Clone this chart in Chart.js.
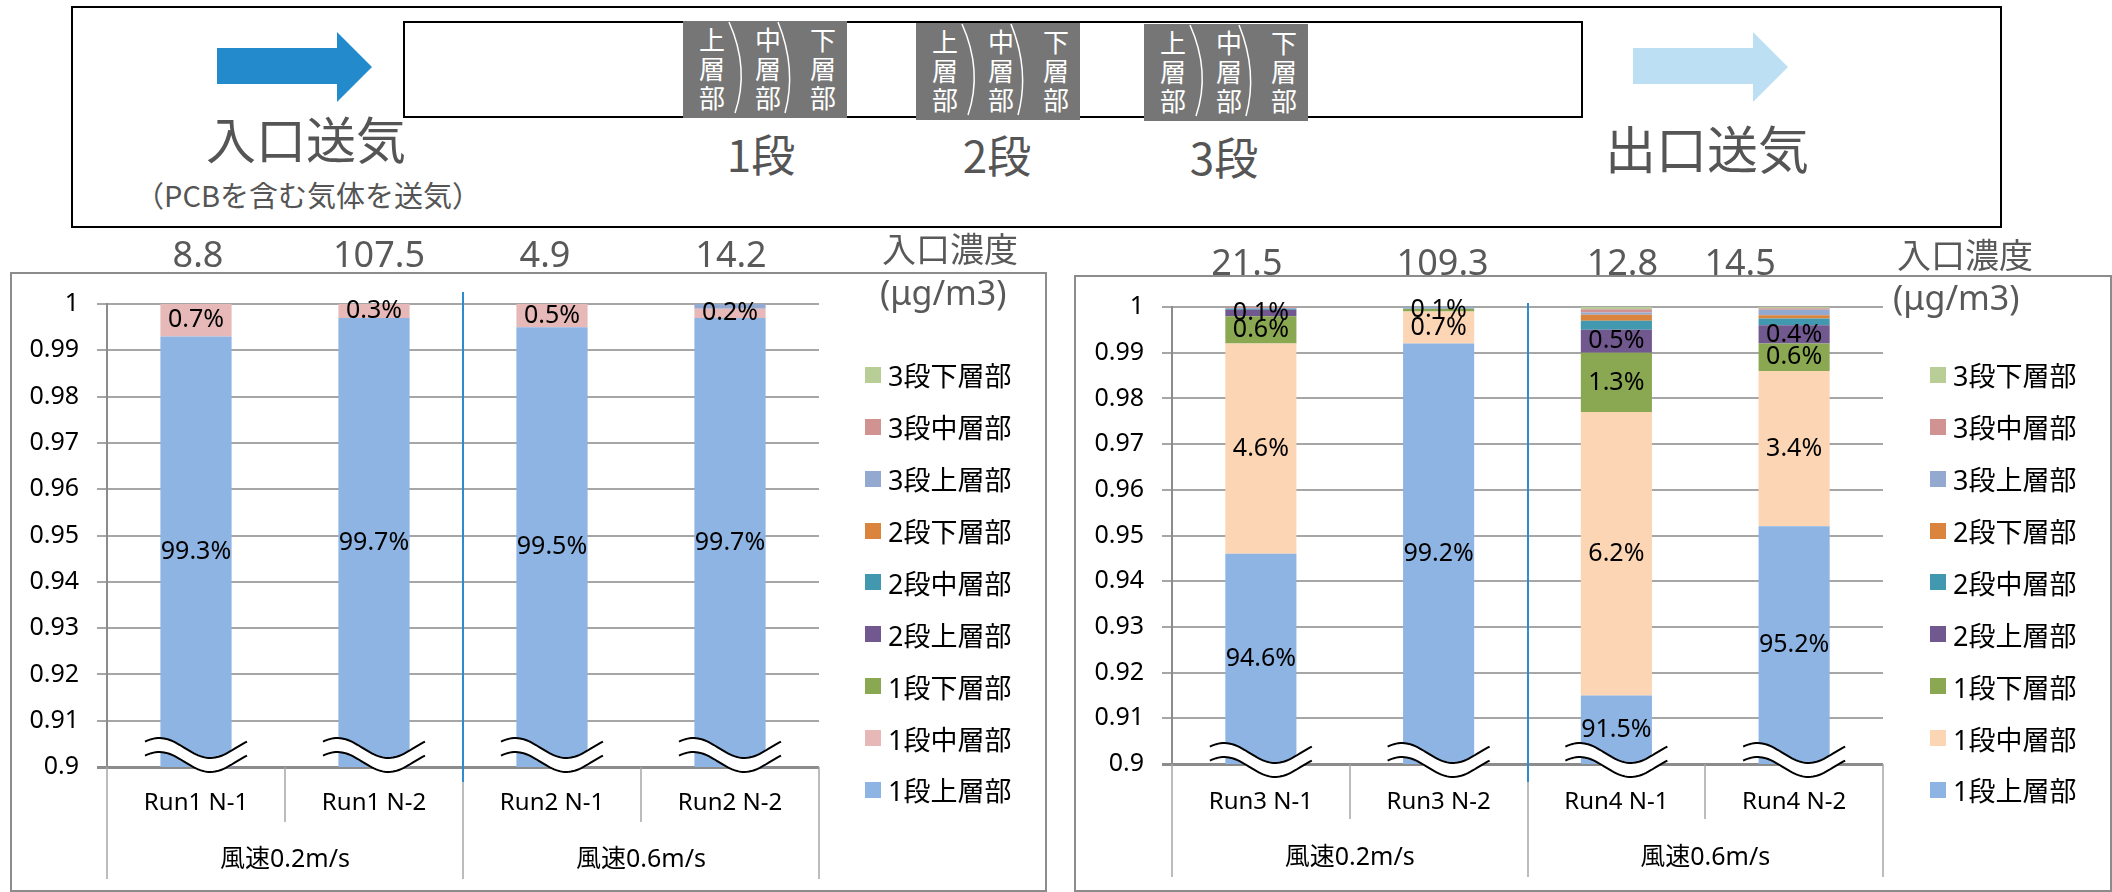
<!DOCTYPE html>
<html lang="ja">
<head>
<meta charset="UTF-8">
<title>段別・層別 PCB 捕集割合</title>
<script src="https://cdn.jsdelivr.net/npm/chart.js"></script>
<style>
  body {
    margin: 0;
    width: 2112px;
    height: 892px;
    position: relative;
    overflow: hidden;
    background: #fff;
    font-family: "Noto Sans", "Noto Sans CJK JP", sans-serif;
  }
  .abs { position: absolute; }
  .t { position: absolute; transform: translate(-50%, -50%); white-space: nowrap; line-height: 1; }
  .jp { font-family: "Noto Sans CJK JP", sans-serif; color: #555; }
  #frame { left: 71px; top: 6px; width: 1931px; height: 222px; border: 2px solid #000; box-sizing: border-box; }
  #tube { left: 403px; top: 21px; width: 1180px; height: 97px; border: 2px solid #000; box-sizing: border-box; }
  .stage { position: absolute; width: 164px; height: 97px; background: #767676; }
  .stage svg { position: absolute; left: 0; top: 0; }
  .layer {
    position: absolute; top: 3px; width: 30px; margin-left: -15px;
    text-align: center; color: #fff; font-size: 26px; line-height: 29px;
    font-family: "Noto Sans CJK JP", sans-serif;
  }
  .panel { position: absolute; border: 2px solid #8c8c8c; box-sizing: border-box; }
  canvas { position: absolute; top: 230px; }
  .unit { position: absolute; color: #595959; font-size: 34px; line-height: 1; white-space: nowrap; transform: translateY(-50%); }
  .legend { position: absolute; top: 349px; }
  .legend div { display: flex; align-items: center; height: 51.875px; font-size: 27px; color: #000; white-space: nowrap; }
  .legend span { display: inline-block; width: 16px; height: 16px; margin-right: 7px; }
</style>
</head>
<body>
  <!-- 装置の模式図 -->
  <div id="frame" class="abs"></div>
  <div id="tube" class="abs"></div>
  <svg class="abs" style="left:0;top:0" width="2112" height="230">
    <polygon points="217,48 337,48 337,32 372,67 337,102 337,84 217,84" fill="#238bcb"/>
    <polygon points="1633,48 1753,48 1753,32 1788,67 1753,102 1753,84 1633,84" fill="#bcdff3"/>
  </svg>
  <div id="stages"></div>
  <div class="t jp" style="left:306px;top:137px;font-size:50px">入口送気</div>
  <div class="t jp" style="left:308px;top:194px;font-size:29px">（PCBを含む気体を送気）</div>
  <div class="t jp" style="left:761px;top:153px;font-size:44px">1段</div>
  <div class="t jp" style="left:997px;top:154px;font-size:44px">2段</div>
  <div class="t jp" style="left:1224px;top:156px;font-size:44px">3段</div>
  <div class="t jp" style="left:1707px;top:147px;font-size:51px">出口送気</div>

  <!-- グラフ枠 -->
  <div class="panel" style="left:10px;top:272px;width:1037px;height:620px"></div>
  <div class="panel" style="left:1074px;top:275px;width:1038px;height:617px"></div>

  <canvas id="run12" width="1056" height="662" style="left:0"></canvas>
  <canvas id="run34" width="1052" height="662" style="left:1060px"></canvas>

  <div class="unit" style="left:882px;top:249px">入口濃度</div>
  <div class="unit" style="left:880px;top:292px">(μg/m3)</div>
  <div class="unit" style="left:1897px;top:255px">入口濃度</div>
  <div class="unit" style="left:1893px;top:297px">(μg/m3)</div>

  <div class="legend" id="legend12" style="left:865px"></div>
  <div class="legend" id="legend34" style="left:1930px"></div>

<script>
const FONT = '"Noto Sans", "Noto Sans CJK JP", sans-serif';

const run12Labels = ['Run1 N-1', 'Run1 N-2', 'Run2 N-1', 'Run2 N-2'];
const run34Labels = ['Run3 N-1', 'Run3 N-2', 'Run4 N-1', 'Run4 N-2'];
const windGroups = ['風速0.2m/s', '風速0.6m/s'];

// 入口濃度 (μg/m3)
const run12Inlet = ['8.8', '107.5', '4.9', '14.2'];
const run34Inlet = ['21.5', '109.3', '12.8', '14.5'];

// 積み上げ順（下から）
const seriesNames = ['1段上層部', '1段中層部', '1段下層部', '2段上層部', '2段中層部',
                     '2段下層部', '3段上層部', '3段中層部', '3段下層部'];

// 縦軸 0.9〜1（%で保持）
const yMin = 90;
const yMax = 100;
const yStep = 1;

// 捕集割合 (%)  Run1 / Run2
const run12S1Upper = [99.3, 99.7, 99.5, 99.7];
const run12S1Mid   = [0.7, 0.3, 0.5, 0.2];
const run12S1Low   = [0, 0, 0, 0];
const run12S2Upper = [0, 0, 0, 0];
const run12S2Mid   = [0, 0, 0, 0];
const run12S2Low   = [0, 0, 0, 0];
const run12S3Upper = [0, 0, 0, 0.1];
const run12S3Mid   = [0, 0, 0, 0];
const run12S3Low   = [0, 0, 0, 0];

// 捕集割合 (%)  Run3 / Run4
const run34S1Upper = [94.6, 99.2, 91.5, 95.2];
const run34S1Mid   = [4.6, 0.7, 6.2, 3.4];
const run34S1Low   = [0.6, 0.06, 1.3, 0.6];
const run34S2Upper = [0.14, 0, 0.5, 0.4];
const run34S2Mid   = [0.02, 0, 0.2, 0.15];
const run34S2Low   = [0, 0, 0.13, 0.07];
const run34S3Upper = [0.02, 0.04, 0.05, 0.12];
const run34S3Mid   = [0.02, 0, 0.07, 0.03];
const run34S3Low   = [0, 0, 0.05, 0.03];

const run12Colors = ['#8db4e2', '#e6b9b8', '#8aa752', '#71588f', '#4198af',
                     '#db843d', '#93a9cf', '#d19392', '#b9cd96'];
const run34Colors = ['#8db4e2', '#fcd5b5', '#8aa752', '#71588f', '#4198af',
                     '#db843d', '#93a9cf', '#d19392', '#b9cd96'];

// 模式図の吸着材ブロック（上層部・中層部・下層部）
[[683, 21], [916, 23], [1144, 24]].forEach(([left, top]) => {
  const box = document.createElement('div');
  box.className = 'stage';
  box.style.left = left + 'px';
  box.style.top = top + 'px';
  box.innerHTML =
    '<svg width="164" height="97"><g fill="none" stroke="#fff" stroke-width="1.5">' +
    '<path d="M46,1 Q67,48 52,92"/><path d="M95,1 Q114,48 102,92"/></g></svg>' +
    '<div class="layer" style="left:29px">上<br>層<br>部</div>' +
    '<div class="layer" style="left:85px">中<br>層<br>部</div>' +
    '<div class="layer" style="left:140px">下<br>層<br>部</div>';
  document.getElementById('stages').appendChild(box);
});

// 棒の下端の省略記号（二重波線）
const breakMarks = {
  id: 'breakMarks',
  afterDatasetsDraw(chart, args, o) {
    const { ctx, chartArea: a, scales: { x } } = chart;
    const wave = (cx, cy) => {
      const p = [];
      for (let k = 0; k <= 48; k++) {
        const t = k / 48;
        p.push([cx - 51 + 102 * t, cy - 10 * Math.sin(2 * Math.PI * t + 0.69)]);
      }
      return p;
    };
    ctx.save();
    chart.data.labels.forEach((_, i) => {
      const cx = x.getPixelForValue(i);
      const up = wave(cx, a.bottom + o.upper);
      const lo = wave(cx, a.bottom + o.lower);
      ctx.beginPath();
      up.forEach(([px, py], k) => k ? ctx.lineTo(px, py) : ctx.moveTo(px, py));
      lo.slice().reverse().forEach(([px, py]) => ctx.lineTo(px, py));
      ctx.closePath();
      ctx.fillStyle = '#fff';
      ctx.fill();
      ctx.strokeStyle = '#000';
      ctx.lineWidth = 2;
      [up, lo].forEach(p => {
        ctx.beginPath();
        p.forEach(([px, py], k) => k ? ctx.lineTo(px, py) : ctx.moveTo(px, py));
        ctx.stroke();
      });
    });
    ctx.restore();
  }
};

// 各区分の割合ラベル（表示範囲内の中央）
const pctLabels = {
  id: 'pctLabels',
  afterDatasetsDraw(chart, args, o) {
    const { ctx, chartArea: a } = chart;
    ctx.save();
    ctx.font = '25px ' + FONT;
    ctx.fillStyle = '#000';
    ctx.textAlign = 'center';
    ctx.textBaseline = 'middle';
    for (let d = 0; d < o.series; d++) {
      chart.getDatasetMeta(d).data.forEach((bar, i) => {
        const v = chart.data.datasets[d].data[i];
        if (!v) return;
        const top = Math.max(bar.y, a.top);
        const bot = Math.min(bar.base, a.bottom);
        ctx.fillText(v.toFixed(1) + '%', bar.x, (top + bot) / 2);
      });
    }
    ctx.restore();
  }
};

// 二段の項目軸と風速区切り
const runAxis = {
  id: 'runAxis',
  afterDraw(chart, args, o) {
    const { ctx, chartArea: a, scales: { x } } = chart;
    const n = chart.data.labels.length;
    const w = (a.right - a.left) / n;
    ctx.save();
    ctx.strokeStyle = '#a6a6a6';
    ctx.lineWidth = 1.5;
    for (let i = 0; i <= n; i++) {
      const px = Math.round(a.left + i * w);
      ctx.beginPath();
      ctx.moveTo(px, a.bottom);
      ctx.lineTo(px, a.bottom + (i % 2 === 0 ? o.groupDepth : o.runDepth));
      ctx.stroke();
    }
    // 風速条件の境界線
    const mid = Math.round(a.left + 2 * w);
    ctx.strokeStyle = '#2f8bcc';
    ctx.lineWidth = 2;
    ctx.beginPath();
    ctx.moveTo(mid, a.top + o.dividerTop);
    ctx.lineTo(mid, a.bottom + o.dividerBottom);
    ctx.stroke();

    ctx.fillStyle = '#000';
    ctx.textAlign = 'center';
    ctx.textBaseline = 'middle';
    ctx.font = '24px ' + FONT;
    chart.data.labels.forEach((l, i) => ctx.fillText(l, x.getPixelForValue(i), a.bottom + o.runY));
    ctx.font = '25px ' + FONT;
    windGroups.forEach((g, j) => ctx.fillText(g, a.left + (2 * j + 1) * w, a.bottom + o.groupY));
    ctx.restore();
  }
};

// 入口濃度の数値
const inletLabels = {
  id: 'inletLabels',
  afterDraw(chart, args, o) {
    const { ctx, chartArea: a, scales: { x } } = chart;
    ctx.save();
    ctx.font = '36px ' + FONT;
    ctx.fillStyle = '#595959';
    ctx.textAlign = 'center';
    ctx.textBaseline = 'middle';
    o.values.forEach((v, i) => ctx.fillText(v, x.getPixelForValue(i) + o.dx[i], a.top - o.rise));
    ctx.restore();
  }
};

function drawLegend(id, colors) {
  const box = document.getElementById(id);
  for (let i = seriesNames.length - 1; i >= 0; i--) {
    const item = document.createElement('div');
    item.innerHTML = '<span style="background:' + colors[i] + '"></span>' + seriesNames[i];
    box.appendChild(item);
  }
}

function makeChart(id, labels, series, colors, cfg) {
  return new Chart(document.getElementById(id), {
    type: 'bar',
    data: {
      labels: labels,
      datasets: series.map((d, i) => ({
        label: seriesNames[i],
        data: d,
        backgroundColor: colors[i],
        borderWidth: 0,
        barPercentage: 0.4,
        categoryPercentage: 1
      }))
    },
    options: {
      responsive: false,
      animation: false,
      devicePixelRatio: 1,
      layout: { padding: cfg.padding },
      plugins: {
        legend: { display: false },
        tooltip: { enabled: false },
        breakMarks: cfg.waves,
        pctLabels: { series: 4 },
        runAxis: cfg.axis,
        inletLabels: cfg.inlet
      },
      scales: {
        x: { stacked: true, display: false },
        y: {
          stacked: true,
          min: yMin,
          max: yMax,
          afterFit: s => { s.width = cfg.axisWidth; },
          ticks: {
            stepSize: yStep,
            color: '#000',
            padding: 18,
            font: { size: 25, family: FONT },
            callback: v => String(+(v / 100).toFixed(2))
          },
          grid: {
            color: c => c.tick && c.tick.value === yMin ? '#8c8c8c' : '#a6a6a6',
            lineWidth: c => c.tick && c.tick.value === yMin ? 3 : 2,
            tickLength: 10
          },
          border: { color: '#8c8c8c', width: 2 }
        }
      }
    },
    plugins: [breakMarks, pctLabels, runAxis, inletLabels]
  });
}

makeChart('run12', run12Labels,
  [run12S1Upper, run12S1Mid, run12S1Low, run12S2Upper, run12S2Mid,
   run12S2Low, run12S3Upper, run12S3Mid, run12S3Low],
  run12Colors, {
    padding: { top: 74, right: 237, bottom: 125, left: 0 },
    axisWidth: 107,
    waves: { upper: -19, lower: -5 },
    axis: { runDepth: 55, groupDepth: 112, runY: 36, groupY: 93, dividerTop: -12, dividerBottom: 15 },
    inlet: { values: run12Inlet, dx: [2, 5, -7, 1], rise: 47 }
  });

makeChart('run34', run34Labels,
  [run34S1Upper, run34S1Mid, run34S1Low, run34S2Upper, run34S2Mid,
   run34S2Low, run34S3Upper, run34S3Mid, run34S3Low],
  run34Colors, {
    padding: { top: 77, right: 229, bottom: 128, left: 0 },
    axisWidth: 112,
    waves: { upper: -11, lower: 3 },
    axis: { runDepth: 55, groupDepth: 113, runY: 38, groupY: 94, dividerTop: -4, dividerBottom: 18 },
    inlet: { values: run34Inlet, dx: [-14, 4, 6, -54], rise: 42 }
  });

drawLegend('legend12', run12Colors);
drawLegend('legend34', run34Colors);
</script>
</body>
</html>
